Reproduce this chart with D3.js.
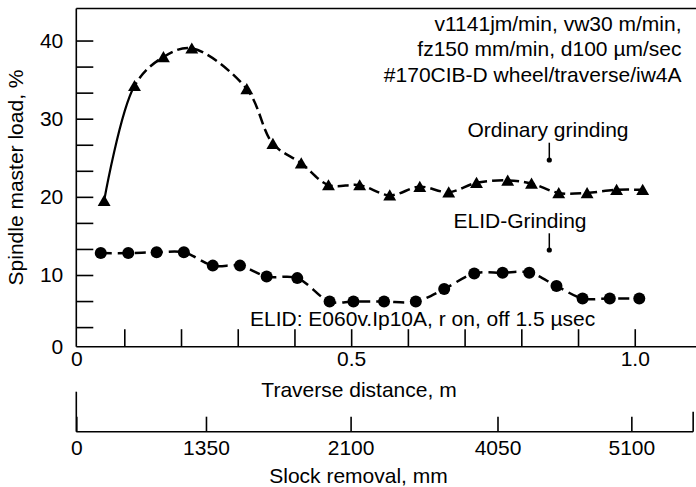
<!DOCTYPE html>
<html><head><meta charset="utf-8">
<script src="https://cdn.jsdelivr.net/npm/d3@7"></script>
<style>
html,body{margin:0;padding:0;background:#fff;}
text{font-family:"Liberation Sans",Arial,Helvetica,sans-serif;fill:#000;}
</style></head>
<body><svg id="c" width="696" height="487"></svg>
<script>
// ---- data ----
const triX = [0.058,0.118,0.169,0.219,0.316,0.362,0.412,0.460,0.515,0.568,0.621,0.672,0.721,0.776,0.818,0.866,0.916,0.968,1.014];
const triY = [19.5,34.2,37.9,39.0,33.8,26.8,24.3,21.5,21.5,20.2,21.3,20.6,21.8,22.1,21.7,20.5,20.5,20.9,20.9];
const circX = [0.051,0.107,0.157,0.205,0.256,0.304,0.351,0.405,0.462,0.504,0.558,0.614,0.664,0.717,0.767,0.814,0.862,0.908,0.956,1.008];
const circY = [12.8,12.8,12.9,12.9,11.2,11.2,9.8,9.6,6.6,6.6,6.6,6.6,8.2,10.2,10.3,10.3,8.6,7.0,7.0,7.0];
const yTicks = [10/3,20/3,10,40/3,50/3,20,70/3,80/3,30,100/3,110/3,40];
const yLabels = [0,10,20,30,40];
const xTicks = [0.1,0.2,0.3,0.4,0.5,0.6,0.7,0.8,0.9,1.0];
const xLabels = [0,0.5,1.0];
const slockLabels = ["0","1350","2100","4050","5100"];
const slockAt = [0,0.244,0.499,0.758,0.994]; // traverse-distance equivalents
const conditionLines = ["v1141jm/min, vw30 m/min,","fz150 mm/min, d100 \u00b5m/sec","#170CIB-D wheel/traverse/iw4A"];
const seriesNames = ["Ordinary grinding","ELID-Grinding"];
const elidNote = "ELID: E060v.Ip10A, r on, off 1.5 \u00b5sec";
const xTitle = "Traverse distance, m";
const x2Title = "Slock removal, mm";
const yTitle = "Spindle master load, %";

// ---- layout ----
const svg = d3.select("#c");
const FS = 21;
const x = d3.scaleLinear().domain([0,0.1,1.108]).range([76.3,124.3,696]);
const y = d3.scaleLinear().domain([0,10/3,44.1]).range([346.7,327.1,8.5]);
const sw = 1.6;

// frame lines
svg.append("line").attr("x1",x(0)).attr("x2",696).attr("y1",y(44.1)).attr("y2",y(44.1)).attr("stroke","#000").attr("stroke-width",sw);
svg.append("line").attr("x1",x(0)).attr("x2",x(0)).attr("y1",y(44.1)).attr("y2",y(0)).attr("stroke","#000").attr("stroke-width",sw);
svg.append("line").attr("x1",x(0)).attr("x2",696).attr("y1",y(0)).attr("y2",y(0)).attr("stroke","#000").attr("stroke-width",sw);

// y axis
const yAxG = svg.append("g").attr("transform",`translate(${x(0)},0)`)
  .call(d3.axisLeft(y).tickValues(yTicks).tickSize(-17).tickFormat(""));
yAxG.select(".domain").remove();
yAxG.selectAll("line").attr("stroke-width",sw);
const yLabG = svg.append("g").attr("transform",`translate(${x(0)},0)`)
  .call(d3.axisLeft(y).tickValues(yLabels).tickSize(0).tickPadding(13).tickFormat(d3.format("d")));
yLabG.select(".domain").remove();
yLabG.selectAll("text").attr("font-size",FS).attr("font-family",null);

// x axis
const xAxG = svg.append("g").attr("transform",`translate(0,${y(0)})`)
  .call(d3.axisBottom(x).tickValues(xTicks).tickSize(-17.5).tickFormat(""));
xAxG.select(".domain").remove();
xAxG.selectAll("line").attr("stroke-width",sw);
const xLabG = svg.append("g").attr("transform",`translate(0,${y(0)})`)
  .call(d3.axisBottom(x).tickValues(xLabels).tickSize(0).tickPadding(4.5).tickFormat(d=>d===0?"0":d3.format(".1f")(d)));
xLabG.select(".domain").remove();
xLabG.selectAll("text").attr("font-size",FS).attr("font-family",null);

svg.append("text").attr("x",359).attr("y",396.5).attr("text-anchor","middle").attr("font-size",FS).text(xTitle);

// slock removal axis
const s0 = 431.7;
const sG = svg.append("g").attr("transform",`translate(0,${s0})`)
  .call(d3.axisBottom(x).tickValues(slockAt).tickSize(-15).tickPadding(8.5).tickFormat((d,i)=>slockLabels[i]));
sG.select(".domain").remove();
sG.selectAll("line").attr("stroke-width",sw);
sG.selectAll("text").attr("font-size",FS).attr("font-family",null);
const xEnd = x(1.103);
svg.append("line").attr("x1",x(0)).attr("x2",xEnd).attr("y1",s0).attr("y2",s0).attr("stroke","#000").attr("stroke-width",sw);
svg.append("line").attr("x1",x(0)).attr("x2",x(0)).attr("y1",s0-40).attr("y2",s0).attr("stroke","#000").attr("stroke-width",sw);
svg.append("line").attr("x1",xEnd).attr("x2",xEnd).attr("y1",s0-20).attr("y2",s0).attr("stroke","#000").attr("stroke-width",sw);
svg.append("text").attr("x",358.5).attr("y",483.3).attr("text-anchor","middle").attr("font-size",FS).text(x2Title);

// y title
svg.append("text").attr("transform","translate(23,177.5) rotate(-90)").attr("text-anchor","middle").attr("font-size",FS).text(yTitle);

// series lines
const line = d3.line().x(d=>x(d[0])).y(d=>y(d[1])).curve(d3.curveCatmullRom.alpha(0.5));
const triPts = triX.map((v,i)=>[v,triY[i]]);
const circPts = circX.map((v,i)=>[v,circY[i]]);
const defs = svg.append("defs");
defs.append("clipPath").attr("id","cA").append("rect").attr("x",0).attr("y",0).attr("width",x(triX[1])).attr("height",487);
defs.append("clipPath").attr("id","cB").append("rect").attr("x",x(triX[1])).attr("y",0).attr("width",696).attr("height",487);
svg.append("path").attr("d",line(triPts)).attr("fill","none").attr("stroke","#000").attr("stroke-width",2.2).attr("clip-path","url(#cA)");
svg.append("path").attr("d",line(triPts)).attr("fill","none").attr("stroke","#000").attr("stroke-width",2.5)
  .attr("stroke-dasharray","11,5").attr("clip-path","url(#cB)");
svg.append("path").attr("d",line(circPts)).attr("fill","none").attr("stroke","#000").attr("stroke-width",2.5)
  .attr("stroke-dasharray","11,6");

// markers
const tri = d3.symbol().type(d3.symbolTriangle).size(72);
svg.append("g").selectAll("path").data(triPts).join("path")
  .attr("transform",d=>`translate(${x(d[0])},${y(d[1])+1.5})`).attr("d",tri).attr("fill","#000");
svg.append("g").selectAll("circle").data(circPts).join("circle")
  .attr("cx",d=>x(d[0])).attr("cy",d=>y(d[1])).attr("r",6).attr("fill","#000");

// annotations
conditionLines.forEach((t,i)=>svg.append("text").attr("x",681.5).attr("y",30.7+i*25.5).attr("text-anchor","end").attr("font-size",FS).text(t));
svg.append("text").attr("x",548).attr("y",137.3).attr("text-anchor","middle").attr("font-size",FS).text(seriesNames[0]);
svg.append("text").attr("x",520).attr("y",228.3).attr("text-anchor","middle").attr("font-size",FS).text(seriesNames[1]);
[[142.7,160],[233.3,250]].forEach(([a,b])=>{
  svg.append("line").attr("x1",549.3).attr("x2",549.3).attr("y1",a).attr("y2",b).attr("stroke","#000").attr("stroke-width",1.5);
  svg.append("circle").attr("cx",549.3).attr("cy",b).attr("r",2.6).attr("fill","#000");
});
svg.append("text").attr("x",250).attr("y",325.7).attr("font-size",FS).text(elidNote);
</script></body></html>
